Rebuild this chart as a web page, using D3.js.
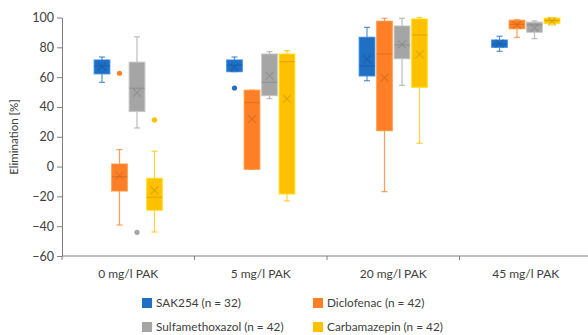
<!DOCTYPE html>
<html>
<head>
<meta charset="utf-8">
<script src="https://cdn.jsdelivr.net/npm/d3@7"></script>
<style>
  body { margin: 0; background: #fff; }
  svg { display: block; font-family: Lato, "Open Sans", sans-serif; }
</style>
</head>
<body>
<script>
const groups = ["0 mg/l PAK", "5 mg/l PAK", "20 mg/l PAK", "45 mg/l PAK"];
const seriesNames = ["SAK254 (n = 32)", "Diclofenac (n = 42)", "Sulfamethoxazol (n = 42)", "Carbamazepin (n = 42)"];
const colors = ["#1f6fc5", "#ff7f27", "#a5a5a5", "#ffc000"];
const yTicks = [-60, -40, -20, 0, 20, 40, 60, 80, 100];

// [whisker low, q1, median, q3, whisker high] per group
const sak254 = [[56.5, 62.2, 67.5, 71.5, 73.5], [63.7, 63.7, 68, 71.5, 73.5], [57.6, 60.8, 67.5, 86.7, 93.4], [77.3, 80, 82.2, 84.9, 87.4]];
const diclofenac = [[-39.2, -16.4, -6.8, 1.7, 11.4], [-1.8, -1.8, 42.9, 51.2, 51.2], [-16.8, 24.1, 75.5, 97.5, 99.5], [86.7, 92.5, 95.4, 98.1, 98.5]];
const sulfamethoxazol = [[25.9, 37, 52.5, 70, 87], [45.6, 47.6, 56.5, 75.5, 77.1], [54.5, 72.4, 81.6, 94.3, 99.5], [85.8, 90.1, 95, 96.8, 97.7]];
const carbamazepin = [[-43.9, -29.3, -20.6, -7.9, 10.3], [-23.1, -18.4, 70.4, 75.5, 77.8], [15.6, 53.2, 88.3, 99, 100], [95, 96.1, 98, 99.5, 100]];

const meanSak = [67, 66.4, 72, 82.5];
const meanDiclo = [-6.1, 31.9, 59.6, 95];
const meanSulfa = [49.6, 61, 82, 93];
const meanCarba = [-15.9, 45.4, 75.3, 97.5];

// outliers: [group index, value]
const outSak = [[1, 52.7]];
const outDiclo = [[0, 62.6]];
const outSulfa = [[0, -44.1]];
const outCarba = [[0, 31.3]];

const boxes = [sak254, diclofenac, sulfamethoxazol, carbamazepin];
const means = [meanSak, meanDiclo, meanSulfa, meanCarba];
const outliers = [outSak, outDiclo, outSulfa, outCarba];

const W = 588, H = 335;
const svg = d3.select("body").append("svg").attr("width", W).attr("height", H);

const x = d3.scaleBand().domain(groups).range([62, 592]);
const xs = d3.scaleBand().domain(d3.range(4)).range([0, x.bandwidth()])
    .paddingInner(0.11).paddingOuter(1.84);
const y = d3.scaleLinear().domain([-60, 100]).range([256, 17.5]);

// y axis
const yAxis = svg.append("g")
    .attr("transform", "translate(62,0)")
    .call(d3.axisLeft(y).tickValues(yTicks).tickSize(5).tickSizeOuter(0));
yAxis.select(".domain").attr("stroke", "#7f7f7f");
yAxis.selectAll(".tick line").attr("stroke", "#7f7f7f");
yAxis.selectAll("text").attr("font-size", 12.5).attr("fill", "#404040")
    .attr("font-family", "Lato, sans-serif").attr("x", -8);

// x axis
const xAxis = svg.append("g")
    .attr("transform", "translate(0,256)");
xAxis.append("line").attr("x1", 62).attr("x2", 592).attr("stroke", "#7f7f7f");
xAxis.selectAll(".tk").data(groups.concat(["end"])).enter().append("line")
    .attr("x1", (d, i) => 62 + i * x.step()).attr("x2", (d, i) => 62 + i * x.step())
    .attr("y1", 0).attr("y2", 4).attr("stroke", "#7f7f7f");
xAxis.selectAll("text").data(groups).enter().append("text")
    .attr("x", d => x(d) + x.bandwidth() / 2)
    .attr("y", 22)
    .attr("text-anchor", "middle")
    .attr("font-size", 12).attr("fill", "#404040")
    .text(d => d);

svg.append("text")
    .attr("transform", "translate(18,137) rotate(-90)")
    .attr("text-anchor", "middle")
    .attr("font-size", 11.5).attr("fill", "#404040")
    .text("Elimination [%]");

// boxes
const plot = svg.append("g");
boxes.forEach((series, s) => {
  const c = colors[s];
  const g = plot.append("g");
  series.forEach((d, gi) => {
    const x0 = x(groups[gi]) + xs(s);
    const bw = xs.bandwidth();
    const cx = x0 + bw / 2;
    const [lo, q1, med, q3, hi] = d;
    const wc = d3.color(c).copy({opacity: 0.75});
    // whiskers
    g.append("line").attr("x1", cx).attr("x2", cx).attr("y1", y(hi)).attr("y2", y(q3))
        .attr("stroke", wc).attr("stroke-width", 1.2);
    g.append("line").attr("x1", cx).attr("x2", cx).attr("y1", y(q1)).attr("y2", y(lo))
        .attr("stroke", wc).attr("stroke-width", 1.2);
    [hi, lo].forEach(v => {
      g.append("line").attr("x1", cx - 3).attr("x2", cx + 3).attr("y1", y(v)).attr("y2", y(v))
          .attr("stroke", wc).attr("stroke-width", 1.2);
    });
    // box
    g.append("rect").attr("x", x0).attr("width", bw)
        .attr("y", y(q3)).attr("height", y(q1) - y(q3))
        .attr("fill", c)
        .attr("stroke", d3.color(c).brighter(0.4)).attr("stroke-opacity", 0.7).attr("stroke-width", 1.3);
    // median
    g.append("line").attr("x1", x0).attr("x2", x0 + bw).attr("y1", y(med)).attr("y2", y(med))
        .attr("stroke", d3.color(c).darker(0.6)).attr("stroke-opacity", 0.6).attr("stroke-width", 1.2);
    // mean X
    const m = y(means[s][gi]), r = 4;
    g.append("path")
        .attr("d", `M${cx - r},${m - r}L${cx + r},${m + r}M${cx - r},${m + r}L${cx + r},${m - r}`)
        .attr("stroke", d3.color(c).darker(0.7)).attr("stroke-opacity", 0.55).attr("stroke-width", 1.2)
        .attr("fill", "none");
  });
  outliers[s].forEach(([gi, v]) => {
    g.append("circle")
        .attr("cx", x(groups[gi]) + xs(s) + xs.bandwidth() / 2)
        .attr("cy", y(v)).attr("r", 2.6).attr("fill", c);
  });
});

// legend
const legPos = [[142, 303], [313, 303], [142, 327], [313, 327]];
const leg = svg.append("g");
seriesNames.forEach((n, i) => {
  const [lx, ly] = legPos[i];
  leg.append("rect").attr("x", lx).attr("y", ly - 5).attr("width", 10).attr("height", 10)
      .attr("fill", colors[i]);
  leg.append("text").attr("x", lx + 14).attr("y", ly + 4)
      .attr("font-size", 11.8).attr("fill", "#404040").text(n);
});
</script>
</body>
</html>
